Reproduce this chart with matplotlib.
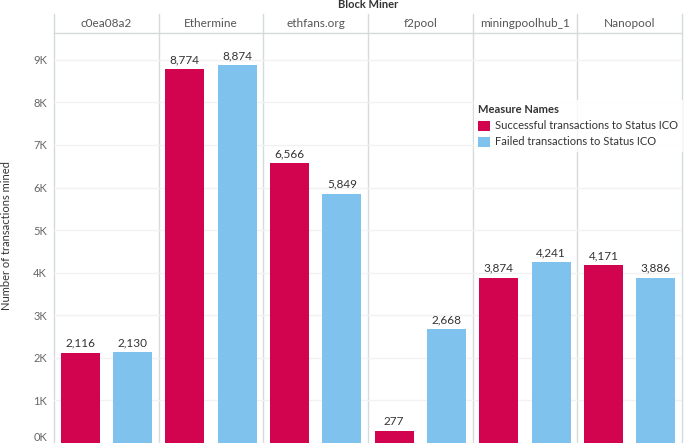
import matplotlib
matplotlib.use("Agg")
import matplotlib.pyplot as plt
from matplotlib.patches import Patch
import matplotlib.transforms as mtransforms

plt.rcParams['font.family'] = ['Lato', 'DejaVu Sans']

miners = ["c0ea08a2", "Ethermine", "ethfans.org", "f2pool", "miningpoolhub_1", "Nanopool"]
successful = [2116, 8774, 6566, 277, 3874, 4171]
failed = [2130, 8874, 5849, 2668, 4241, 3886]
series_names = ["Successful transactions to Status ICO", "Failed transactions to Status ICO"]
tick_values = list(range(0, 10000, 1000))
tick_labels = [f"{v // 1000}K" for v in tick_values]

RED = "#D2044F"
BLUE = "#80C2EE"
LINE = "#D5DADA"
GRID = "#F2F2F2"
TXT = "#333333"
GRAY = "#666666"

W, H = 685, 443
fig = plt.figure(figsize=(W / 100, H / 100), dpi=100)
left, right, top = 54 / W, 682 / W, 33 / H
ax = fig.add_axes([left, 0, right - left, 1 - top])

n = len(miners)
xs = list(range(n))
bw = 0.37
ax.bar([x - 0.25 for x in xs], successful, width=bw, color=RED, zorder=3)
ax.bar([x + 0.25 for x in xs], failed, width=bw, color=BLUE, zorder=3)
for x, s, f in zip(xs, successful, failed):
    ax.annotate(f"{s:,}", (x - 0.25, s), xytext=(0, 3), textcoords="offset points",
                ha="center", va="bottom", fontsize=8.5, color=TXT)
    ax.annotate(f"{f:,}", (x + 0.25, f), xytext=(0, 3), textcoords="offset points",
                ha="center", va="bottom", fontsize=8.5, color=TXT)

ax.set_xlim(-0.5, n - 0.5)
ax.set_ylim(0, 9630)
ax.set_xticks([])
ax.set_yticks(tick_values)
ax.set_yticklabels(tick_labels, fontsize=8, color=GRAY)
ax.tick_params(axis="y", length=0, pad=5)
labs = ax.get_yticklabels()
labs[0].set_va("bottom")
ax.yaxis.grid(True, color=GRID, linewidth=1, zorder=0)
for s in ax.spines.values():
    s.set_visible(False)

# pane separators (extend into header row)
trans = mtransforms.blended_transform_factory(ax.transData, fig.transFigure)
for b in [i - 0.5 for i in range(n + 1)]:
    ax.plot([b, b], [0, 1 - 14 / H], transform=trans, color=LINE, lw=1,
            clip_on=False, zorder=1)
fig.add_artist(plt.Line2D([left, right], [1 - top, 1 - top], color=LINE, lw=1))

for x, m in zip(xs, miners):
    ax.text(x, 1 - 23.5 / H, m, transform=trans, ha="center", va="center",
            fontsize=8.5, color="#555555")

fig.text((left + right) / 2, 1 - 5 / H, "Block Miner", ha="center", va="center",
         fontsize=8, fontweight="bold", color=TXT)
fig.text(7 / W, 1 - 236 / H, "Number of transactions mined", rotation=90,
         ha="center", va="center", fontsize=8, color=TXT)

handles = [Patch(facecolor=RED), Patch(facecolor=BLUE)]
leg = fig.legend(handles, series_names, title="Measure Names",
                 loc="upper left", bbox_to_anchor=(474 / W, 1 - 100 / H),
                 fontsize=8, title_fontsize=8, frameon=True, fancybox=False,
                 handlelength=1.0, handleheight=1.0, handletextpad=0.5,
                 borderpad=0.4, labelspacing=0.45, borderaxespad=0,
                 alignment="left")
leg.get_frame().set_edgecolor("none")
leg.get_frame().set_facecolor("white")
leg.get_title().set_fontweight("bold")
leg.get_title().set_color(TXT)
for t in leg.get_texts():
    t.set_color(TXT)
leg.set_zorder(10)

fig.savefig("out.png", dpi=100)
